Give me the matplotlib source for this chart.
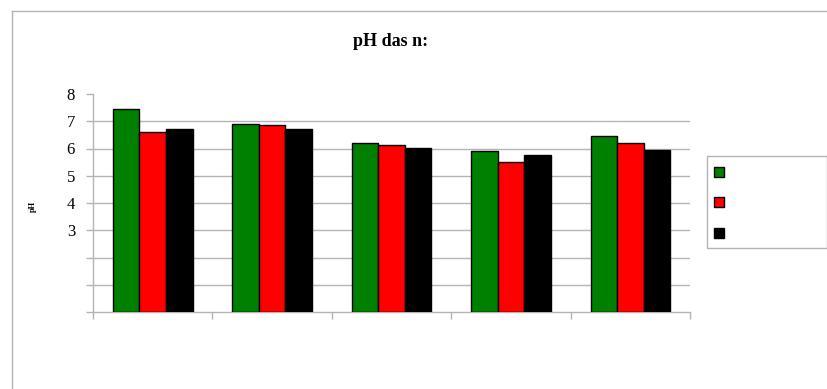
import matplotlib
matplotlib.use("Agg")
import matplotlib.pyplot as plt
import matplotlib.patches as mpatches
import numpy as np

# pH values per sampling point, three series
CATEGORIES = ["", "", "", "", ""]
SERIES_A = [7.44, 6.91, 6.20, 5.90, 6.45]
SERIES_B = [6.61, 6.85, 6.14, 5.49, 6.20]
SERIES_C = [6.73, 6.73, 6.03, 5.75, 5.93]
COLORS = ["#008000", "#ff0000", "#000000"]
YTICKS = [0, 1, 2, 3, 4, 5, 6, 7, 8]
YTICK_LABELS = ["", "", "", "3", "4", "5", "6", "7", "8"]

GRAY = "#b4b4b4"
SERIF = ["Liberation Serif", "DejaVu Serif"]

fig = plt.figure(figsize=(8.27, 3.89), dpi=100)
W, H = 827, 389


def fx(px):
    return px / W


def fy(py):
    return 1 - py / H


# outer chart frame (runs off the right and bottom edges)
fig.add_artist(plt.Line2D([fx(12), fx(12)], [fy(11), 0], color=GRAY, lw=1))
fig.add_artist(plt.Line2D([fx(12), 1], [fy(11), fy(11)], color=GRAY, lw=1))

ax = fig.add_axes([fx(93), fy(312), fx(690) - fx(93), fy(94) - fy(312)])

n = len(SERIES_A)
x = np.arange(n) + 0.5
bw = 1 / 4.5
for k, (vals, c) in enumerate(zip([SERIES_A, SERIES_B, SERIES_C], COLORS)):
    ax.bar(x + (k - 1) * bw, vals, width=bw, color=c, edgecolor="black",
           linewidth=1, zorder=3)

ax.set_xlim(0, n)
ax.set_ylim(0, 8)
for y in YTICKS[1:-1]:
    ax.axhline(y, color=GRAY, lw=1, zorder=1)

ax.set_yticks(YTICKS)
ax.set_yticklabels(YTICK_LABELS, fontsize=12, family=SERIF)
ax.set_xticks(np.arange(n + 1))
ax.set_xticklabels([""] * (n + 1))
ax.tick_params(axis="both", direction="out", length=5, color=GRAY, width=1, pad=8)

for side in ["top", "right"]:
    ax.spines[side].set_visible(False)
for side in ["left", "bottom"]:
    ax.spines[side].set_color(GRAY)
    ax.spines[side].set_linewidth(1)

fig.text(fx(391), fy(42), "pH das n:", ha="center", va="center",
         fontsize=13, fontweight="bold", family=SERIF)
fig.text(fx(33), fy(206), "pH", ha="center", va="center", rotation=90,
         fontsize=6, fontweight="bold", family=SERIF)

# legend box, entries without labels
fig.add_artist(mpatches.Rectangle((fx(707), fy(248)), 1 - fx(707), fy(156) - fy(248),
                                  transform=fig.transFigure, facecolor="white",
                                  edgecolor=GRAY, lw=1))
for c, py in zip(COLORS, [172, 202, 233]):
    fig.add_artist(mpatches.Rectangle((fx(714), fy(py + 5)), fx(10), 10 / H,
                                      transform=fig.transFigure, facecolor=c,
                                      edgecolor="black", lw=1))

fig.savefig("out.png", dpi=100)
